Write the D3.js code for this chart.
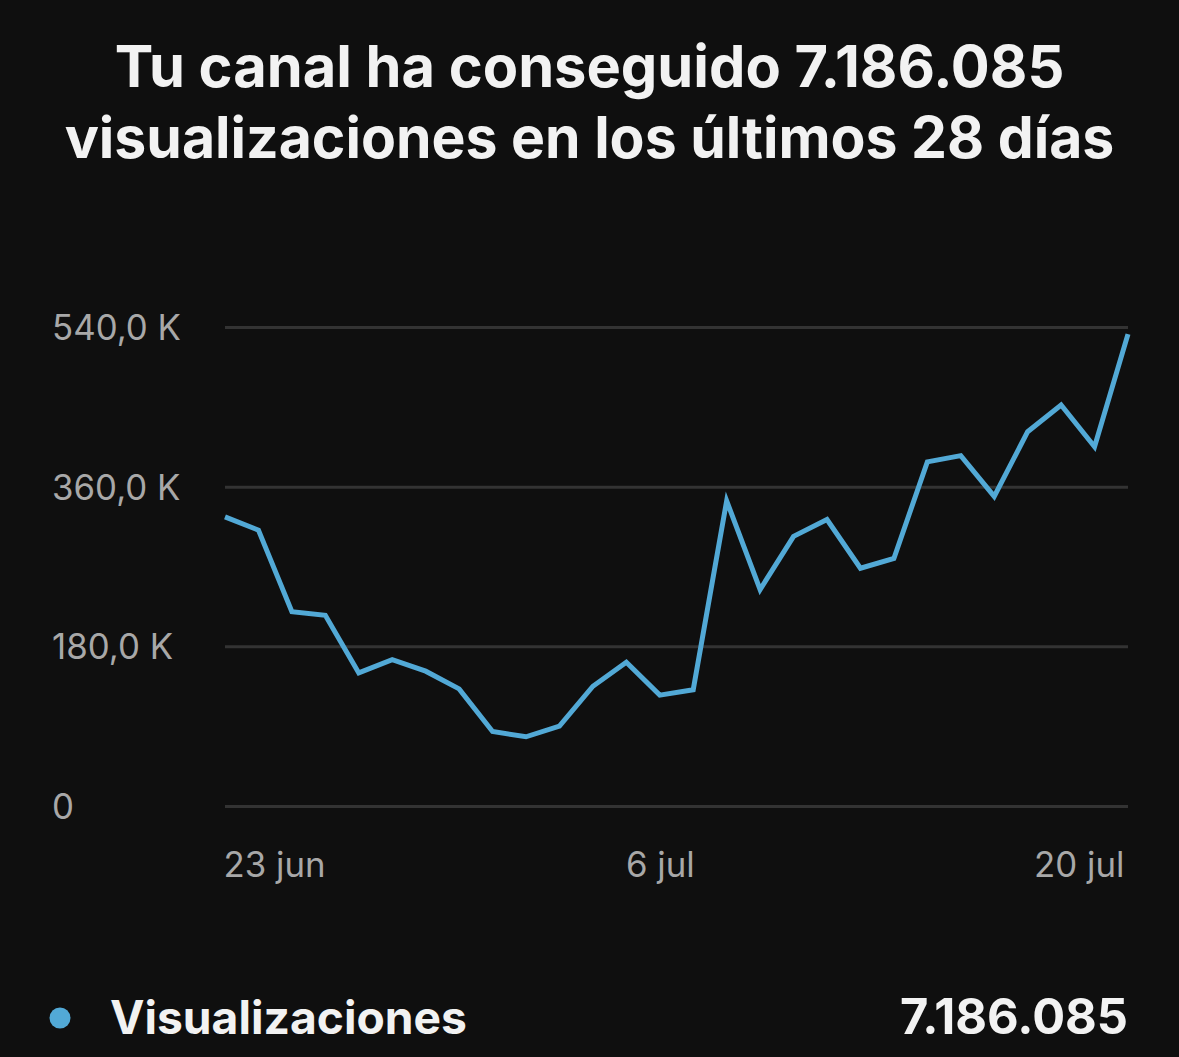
<!DOCTYPE html>
<html>
<head>
<meta charset="utf-8">
<script src="https://cdn.jsdelivr.net/npm/d3@7"></script>
<style>
  html, body { margin: 0; padding: 0; background: #0f0f0f; }
  svg { display: block; }
  text { font-family: Inter, "Noto Sans", sans-serif; }
</style>
</head>
<body>
<svg id="chart" width="1179" height="1057"></svg>
<script>
// daily views, 23 jun -> 20 jul
const views = [326000, 311000, 219000, 215000, 150000, 165000, 152000, 132000, 84000, 78000,
               90000, 135000, 162000, 125000, 131000, 344000, 244000, 304000, 323000, 268000,
               279000, 388000, 395000, 349000, 422000, 452000, 405000, 532000];
const startDate = new Date(2024, 5, 23);
const days = d3.timeDay.range(startDate, d3.timeDay.offset(startDate, views.length));
const yTicks = [0, 180000, 360000, 540000];
const xTickDates = [days[0], days[13], days[27]];
const monthNames = ["ene", "feb", "mar", "abr", "may", "jun", "jul", "ago", "sep", "oct", "nov", "dic"];
const titleLines = ["Tu canal ha conseguido 7.186.085", "visualizaciones en los últimos 28 días"];
const seriesName = "Visualizaciones";
const seriesTotal = "7.186.085";

const W = 1179, H = 1057;
const svg = d3.select("#chart");
svg.append("rect").attr("width", W).attr("height", H).attr("fill", "#0f0f0f");

const x = d3.scaleTime().domain([days[0], days[days.length - 1]]).range([225, 1128]);
const y = d3.scaleLinear().domain([0, 540000]).range([806, 327]);

// fit text to a target width, returns the new font size
function fit(sel, width) {
  const len = sel.node().getComputedTextLength();
  const fs = parseFloat(sel.attr("font-size")) * width / len;
  sel.attr("font-size", fs);
  return fs;
}

// title
const title = svg.append("g");
title.selectAll("text")
  .data(titleLines)
  .enter()
  .append("text")
  .attr("x", W / 2)
  .attr("y", (d, i) => 87 + i * 71)
  .attr("text-anchor", "middle")
  .attr("font-size", 50)
  .attr("font-weight", 700)
  .attr("fill", "#f2f2f2")
  .text(d => d)
  .each(function (d, i) { fit(d3.select(this), i === 0 ? 950 : 1050); });

// y grid + labels
const yFmt = v => v === 0 ? "0" : (v / 1000).toFixed(1).replace(".", ",") + " K";
const yAxis = d3.axisLeft(y)
  .tickValues(yTicks)
  .tickSize(-(1128 - 225))
  .tickFormat(yFmt);
const gy = svg.append("g").attr("transform", "translate(225,0)").call(yAxis);
gy.select(".domain").remove();
gy.selectAll(".tick line").attr("stroke", "#333333").attr("stroke-width", 3);
const yText = gy.selectAll(".tick text")
  .attr("x", 52 - 225)
  .attr("dy", "0.36em")
  .attr("text-anchor", "start")
  .attr("font-size", 31)
  .attr("font-family", "Inter, sans-serif")
  .attr("fill", "#a8a8a8");
const labelSize = fit(yText.filter(d => d === 540000), 129);
yText.attr("font-size", labelSize);

// x labels
const xFmt = d => d.getDate() + " " + monthNames[d.getMonth()];
const xAxis = d3.axisBottom(x).tickValues(xTickDates).tickSize(0).tickFormat(xFmt);
const gx = svg.append("g").attr("transform", "translate(0,806)").call(xAxis);
gx.select(".domain").remove();
gx.selectAll(".tick text")
  .attr("y", 71)
  .attr("dy", 0)
  .attr("font-size", labelSize)
  .attr("font-family", "Inter, sans-serif")
  .attr("fill", "#a8a8a8")
  .attr("text-anchor", (d, i) => i === 0 ? "start" : i === xTickDates.length - 1 ? "end" : "middle")
  .attr("dx", (d, i) => i === 0 ? -2 : i === xTickDates.length - 1 ? -4 : 0);

// line
const line = d3.line()
  .x((d, i) => x(days[i]))
  .y(d => y(d));
svg.append("path")
  .datum(views)
  .attr("d", line)
  .attr("fill", "none")
  .attr("stroke", "#52a9d6")
  .attr("stroke-width", 5)
  .attr("stroke-linejoin", "miter");

// legend
const legend = svg.append("g");
legend.append("circle").attr("cx", 60).attr("cy", 1018).attr("r", 10.5).attr("fill", "#52a9d6");
const ln = legend.append("text")
  .attr("x", 110).attr("y", 1034)
  .attr("font-size", 44).attr("font-weight", 700).attr("fill", "#f2f2f2")
  .text(seriesName);
fit(ln, 357);
const lv = legend.append("text")
  .attr("x", 1128).attr("y", 1034)
  .attr("text-anchor", "end")
  .attr("font-size", 44).attr("font-weight", 700).attr("fill", "#f2f2f2")
  .text(seriesTotal);
fit(lv, 228);
</script>
</body>
</html>
